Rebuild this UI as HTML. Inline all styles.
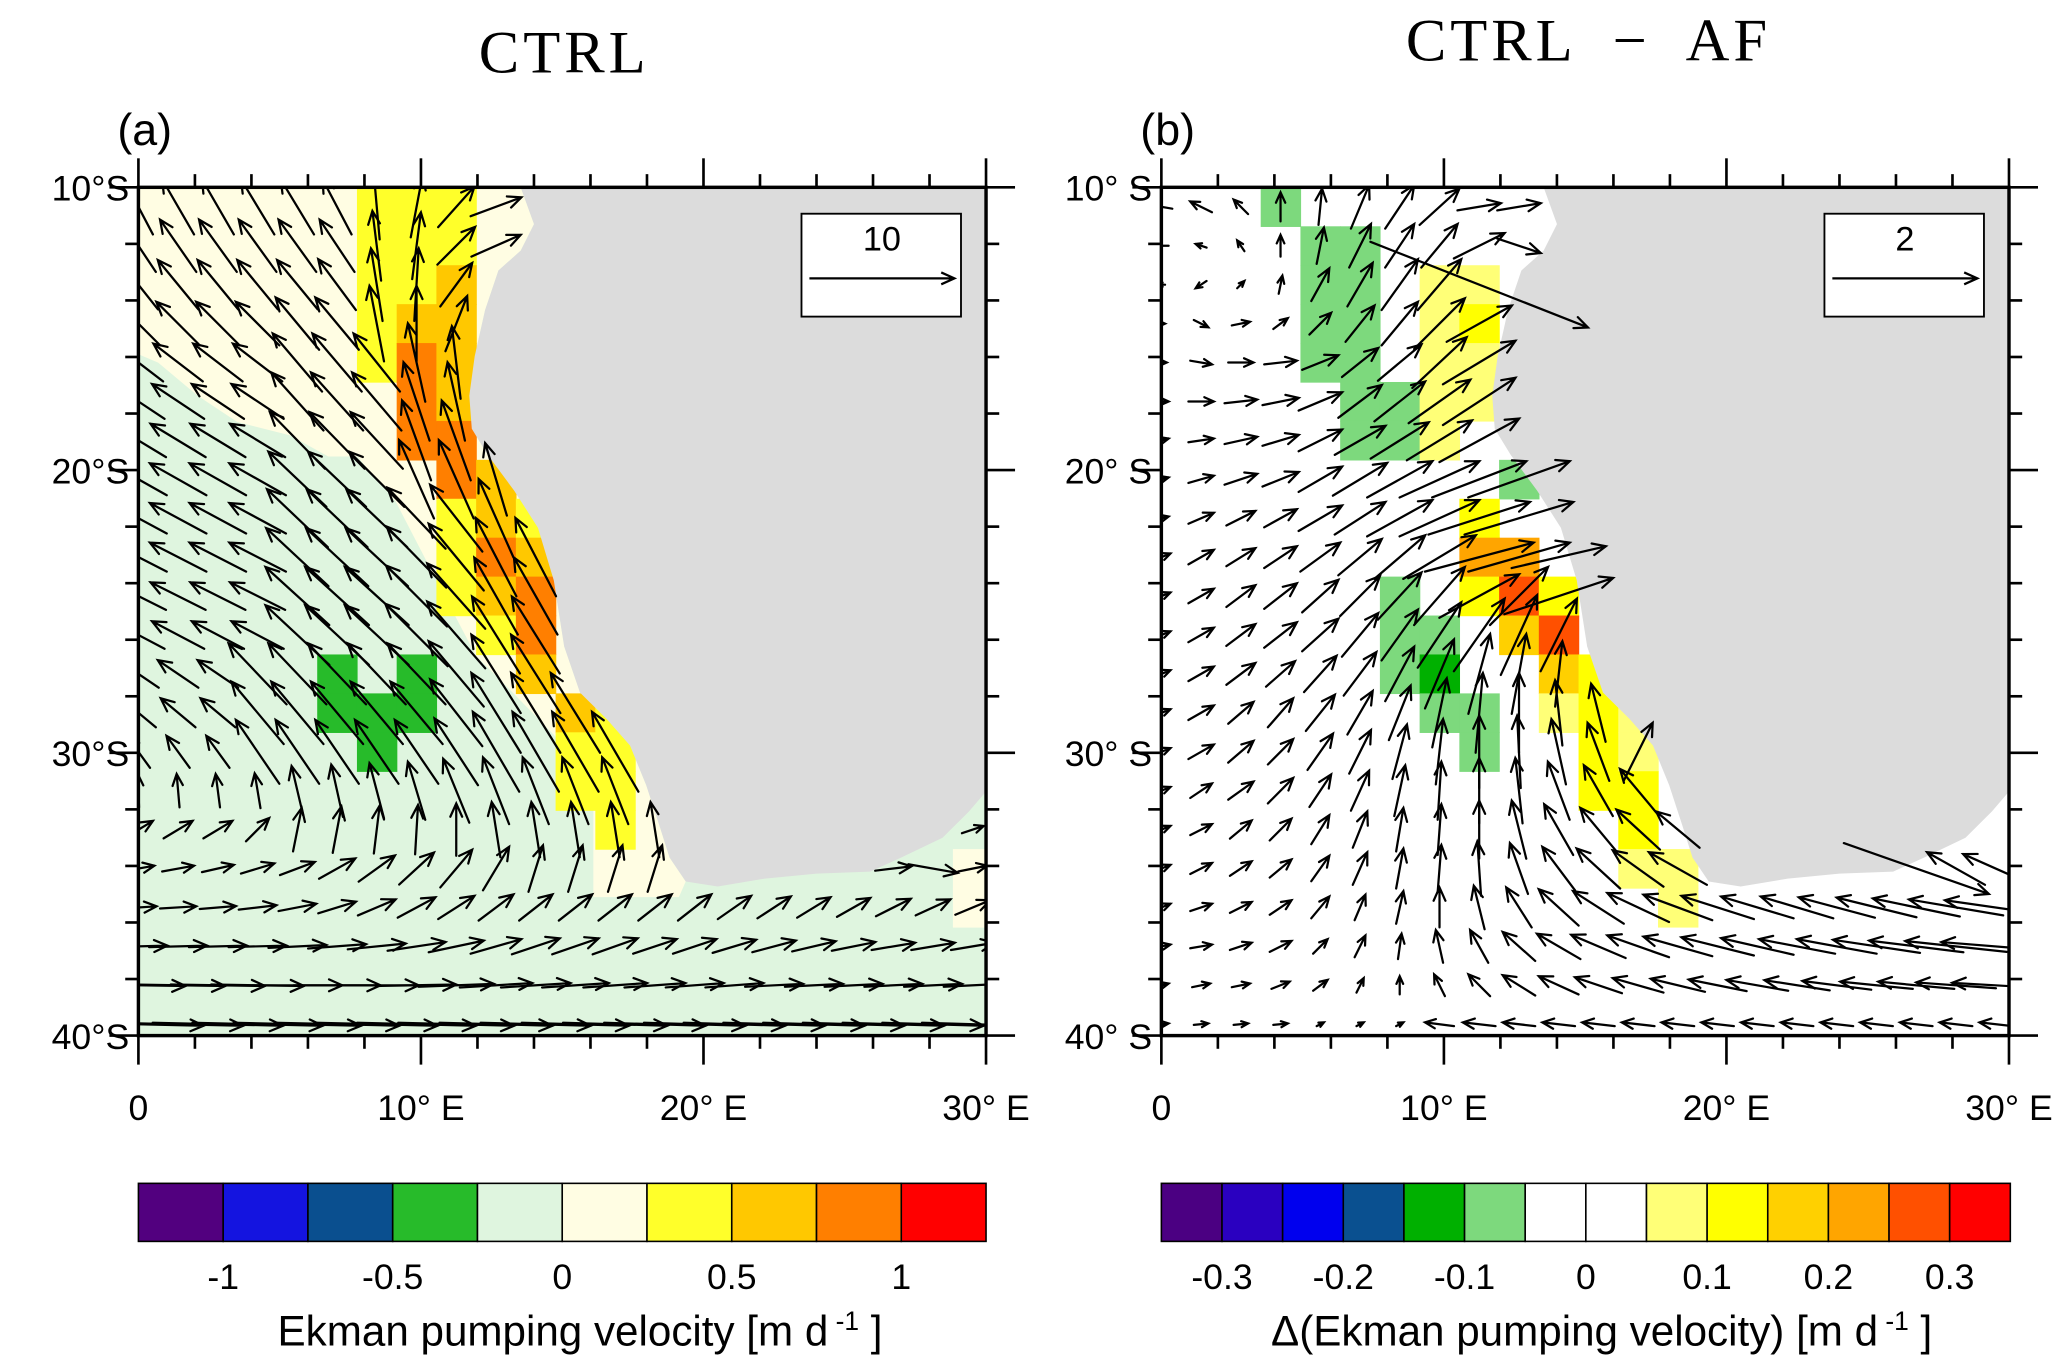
<!DOCTYPE html>
<html><head><meta charset="utf-8"><style>
html,body{margin:0;padding:0;background:#fff}
svg{display:block}
text{font-family:"Liberation Sans",sans-serif}
</style></head><body>
<svg id="fig" width="2067" height="1372" viewBox="0 0 1568 1040" preserveAspectRatio="none" xmlns="http://www.w3.org/2000/svg">
<defs>
<clipPath id="clipA"><rect x="105" y="142" width="643" height="643"/></clipPath>
<clipPath id="clipB"><rect x="881" y="142" width="644" height="643"/></clipPath>
</defs>
<text x="428" y="55" text-anchor="middle" style="font-family:'Liberation Serif',serif;font-size:46px;letter-spacing:3px">CTRL</text>
<text x="1205" y="46" text-anchor="middle" xml:space="preserve" style="font-family:'Liberation Serif',serif;font-size:46px;letter-spacing:3px;white-space:pre">CTRL  −  AF</text>
<text x="89" y="110" style="font-size:34px">(a)</text>
<text x="865" y="110" style="font-size:34px">(b)</text>
<g id="panelA"></g>
<g id="panelB"></g>
<g id="cbA"></g>
<g id="cbB"></g>
<text x="440" y="1020" text-anchor="middle" style="font-size:32px">Ekman pumping velocity [m d<tspan dy="-12" font-size="20"> -1</tspan><tspan dy="12"> ]</tspan></text>
<text x="1215" y="1020" text-anchor="middle" style="font-size:32px">Δ(Ekman pumping velocity) [m d<tspan dy="-12" font-size="20"> -1</tspan><tspan dy="12"> ]</tspan></text>
</svg>
<script>
// ---------- data ----------
const lonTicks=[0,10,20,30];
const lonTickLabels=["0","10° E","20° E","30° E"];
const latTicks=[-10,-20,-30,-40];
const latTickLabelsA=["10°S","20°S","30°S","40°S"];
const latTickLabelsB=["10° S","20° S","30° S","40° S"];
const binsA=[-1.25,-1,-0.75,-0.5,-0.25,0,0.25,0.5,0.75,1,1.25];
const colorsA=["#52007f","#1414e0","#0a4f8f","#27bb2a","#dff5df","#fffde3","#ffff2a","#ffc800","#ff7f00","#ff0000"];
const cbLabelsA=["-1","-0.5","0","0.5","1"];
const cbLabelValsA=[-1,-0.5,0,0.5,1];
const binsB=[-0.35,-0.3,-0.25,-0.2,-0.15,-0.1,-0.05,0,0.05,0.1,0.15,0.2,0.25,0.3,0.35];
const colorsB=["#4b0082","#2a00c0","#0000ee","#0a5090","#00b000","#7dd97d","#ffffff","#ffffff","#ffff77","#ffff00","#ffd000","#ffa500","#ff5000","#ff0000"];
const cbLabelsB=["-0.3","-0.2","-0.1","0","0.1","0.2","0.3"];
const cbLabelValsB=[-0.3,-0.2,-0.1,0,0.1,0.2,0.3];
// coastline (lon, lat)
const coastLon=[13.53,14.0,13.53,12.74,12.27,11.9,11.71,11.8,12.37,13.3,14.14,14.7,15.07,15.63,16.57,17.4,17.97,18.43,18.8,19.37,20.5,22.17,24.0,25.9,27.0,28.46,29.4,30,30];
const coastLat=[-10,-11.3,-12.24,-12.94,-14.34,-15.97,-17.37,-18.54,-19.47,-20.73,-22.04,-23.9,-26.24,-27.87,-28.8,-29.74,-31.14,-32.54,-33.7,-34.55,-34.73,-34.45,-34.27,-34.2,-33.7,-33.0,-32.07,-31.37,-10];
// positive-value (cream) zone of panel a
const creamLon=[0,13.53,14.0,13.53,12.74,12.27,11.9,11.71,11.8,12.37,13.3,14.14,14.7,15.07,15.63,16.57,17.4,17.97,18.43,18.8,19.37,19.13,16.1,16.1,14.75,13.35,11.95,10.55,9.1,7.75,6.72,5.37,3.5,2.1,0.7,0];
const creamLat=[-10,-10,-11.3,-12.24,-12.94,-14.34,-15.97,-17.37,-18.54,-19.47,-20.73,-22.04,-23.9,-26.24,-27.87,-28.8,-29.74,-31.14,-32.54,-33.7,-34.55,-35.1,-35.1,-32.03,-29.41,-27.97,-26.57,-23.9,-21.1,-19.52,-19.52,-18.77,-18.3,-17.37,-16.2,-15.9];
// grid cells [col index, row index, value]
const cellsA=[[6,0,0.4],[6,1,0.4],[6,2,0.4],[6,3,0.4],[6,4,0.4],
[7,0,0.4],[7,1,0.4],[7,2,0.4],[7,3,0.6],[7,4,0.9],[7,5,0.9],[7,6,0.9],
[8,0,0.4],[8,1,0.4],[8,2,0.6],[8,3,0.6],[8,4,0.6],[8,5,0.6],[8,6,0.9],[8,7,0.9],[8,8,0.4],[8,9,0.4],[8,10,0.4],
[9,7,0.6],[9,8,0.6],[9,9,0.9],[9,10,0.6],[9,11,0.4],
[10,8,0.4],[10,9,0.6],[10,10,0.9],[10,11,0.9],[10,12,0.6],
[11,13,0.6],[11,14,0.4],[11,15,0.4],
[12,13,0.4],[12,14,0.4],[12,15,0.4],[12,16,0.4],
[5,12,-0.4],[5,13,-0.4],[6,13,-0.4],[6,14,-0.4],[7,12,-0.4],[7,13,-0.4],
[21,17,0.1],[21,18,0.1]];
const cellsB=[[3,0,-0.08],[4,1,-0.08],[4,2,-0.08],[4,3,-0.08],[4,4,-0.08],[5,1,-0.08],[5,2,-0.08],[5,3,-0.08],[5,4,-0.08],
[5,5,-0.08],[5,6,-0.08],[6,5,-0.08],[6,6,-0.08],[9,7,-0.08],
[6,10,-0.08],[6,11,-0.08],[6,12,-0.08],[7,11,-0.08],[7,12,-0.12],[7,13,-0.08],[8,13,-0.08],[8,14,-0.08],
[7,2,0.08],[7,3,0.08],[7,4,0.08],[7,5,0.08],[7,6,0.08],
[8,2,0.08],[8,3,0.12],[8,4,0.08],[8,5,0.08],
[8,8,0.12],[8,9,0.22],[8,10,0.12],
[9,9,0.22],[9,10,0.27],[9,11,0.18],
[10,10,0.12],[10,11,0.27],[10,12,0.18],[10,13,0.08],
[11,12,0.12],[11,13,0.12],[11,14,0.12],[11,15,0.12],
[12,13,0.08],[12,14,0.08],[12,15,0.12],[12,16,0.12],[12,17,0.08],
[13,17,0.08],[13,18,0.08]];
// vectors panel a (u east, v north; reference 10)
const UA=[
[-2.0,-2.2,-2.2,-2.3,-2.3,-2.0,-0.4,0.8,2.5,3.5,0,0,0,0,0,0,0,0,0,0,0,0],
[-2.4,-2.5,-2.6,-2.6,-2.6,-2.4,-0.6,0.6,2.6,3.4,0,0,0,0,0,0,0,0,0,0,0,0],
[-2.7,-2.8,-2.8,-2.8,-2.8,-2.6,-0.8,0.3,2.2,3.2,0,0,0,0,0,0,0,0,0,0,0,0],
[-3.0,-3.0,-3.0,-3.0,-3.0,-3.0,-1.0,0,1.5,0,0,0,0,0,0,0,0,0,0,0,0,0],
[-3.4,-3.4,-3.4,-3.4,-3.4,-3.4,-3.2,-1.2,-0.6,0,0,0,0,0,0,0,0,0,0,0,0,0],
[-3.6,-3.6,-3.6,-3.6,-3.6,-3.6,-3.4,-1.8,-1.2,0,0,0,0,0,0,0,0,0,0,0,0,0],
[-3.8,-3.8,-3.8,-3.8,-3.8,-3.8,-3.6,-2.0,-2.0,0,0,0,0,0,0,0,0,0,0,0,0,0],
[-3.9,-3.9,-3.9,-3.9,-4.0,-4.0,-3.8,-2.4,-2.4,-1.5,0,0,0,0,0,0,0,0,0,0,0,0],
[-3.9,-3.9,-3.9,-3.9,-4.2,-4.2,-4.2,-4.0,-3.6,-2.4,-2.4,0,0,0,0,0,0,0,0,0,0,0],
[-3.9,-3.9,-3.9,-3.9,-4.3,-4.3,-4.3,-4.1,-3.8,-2.8,-2.8,0,0,0,0,0,0,0,0,0,0,0],
[-3.8,-3.8,-3.8,-3.8,-4.4,-4.4,-4.4,-4.2,-4.0,-3.0,-3.0,-2.2,0,0,0,0,0,0,0,0,0,0],
[-3.6,-3.6,-3.6,-3.6,-4.4,-4.4,-4.4,-4.3,-4.0,-3.3,-3.3,-3.3,0,0,0,0,0,0,0,0,0,0],
[-2.8,-2.8,-2.8,-4.0,-4.0,-4.0,-4.0,-4.0,-3.8,-3.4,-3.4,-3.4,-3.4,0,0,0,0,0,0,0,0,0],
[-2.4,-2.4,-2.4,-3.6,-3.6,-3.6,-3.6,-3.6,-3.6,-3.4,-3.4,-3.4,-3.4,0,0,0,0,0,0,0,0,0],
[-1.6,-1.6,-1.6,-3.0,-3.0,-3.0,-3.0,-3.0,-3.0,-3.2,-3.2,-3.2,-3.2,-2.6,0,0,0,0,0,0,0,0],
[-0.1,-0.2,-0.3,-0.4,-0.8,-0.8,-1.0,-1.2,-1.8,-1.8,-1.8,-1.8,-1.8,-1.6,0,0,0,0,0,0,0,0],
[2.0,2.0,2.0,1.6,0.6,0.6,0.4,0.2,0,-0.6,-0.6,-0.6,-0.6,-0.6,0,0,0,0,0,0,1.5,1.5],
[2.2,2.2,2.2,2.3,2.4,2.5,2.5,2.4,2.2,1.8,1.0,1.0,1.0,1.0,0,0,0,0,0,2.5,3.4,2.0],
[2.5,2.5,2.5,2.6,2.6,2.6,2.6,2.6,2.5,2.4,2.3,2.3,2.3,2.3,2.3,2.3,2.3,2.3,2.3,2.4,2.4,2.4],
[4,4,4,4,4,4,4,4,3.8,3.5,3.3,3.2,3.1,3,3,3,3,3,3,3,3,3],
[6.5,6.5,6.5,6.4,6.2,6,5.8,5.5,5.2,5,4.8,4.6,4.4,4.2,4,4,4,4,4,4,4,4],
[9,9,9,9,8.8,8.6,8.4,8.2,8,7.8,7.6,7.4,7.2,7,7,7,7,7,7,7,7,7]];
const VA=[
[3.8,3.8,3.8,3.8,3.8,3.8,4.5,4.2,2.8,1.3,0,0,0,0,0,0,0,0,0,0,0,0],
[3.6,3.6,3.6,3.6,3.6,3.6,4.8,4.6,2.6,1.5,0,0,0,0,0,0,0,0,0,0,0,0],
[3.4,3.4,3.4,3.4,3.4,3.5,5,5,3,2,0,0,0,0,0,0,0,0,0,0,0,0],
[3,3,3,3,3.6,3.6,5.2,5.2,3.8,0,0,0,0,0,0,0,0,0,0,0,0,0],
[2.6,2.6,2.6,2.6,4,4,4,5.4,5,0,0,0,0,0,0,0,0,0,0,0,0,0],
[2.4,2.4,2.4,2.4,4,4,4,5.4,5.4,0,0,0,0,0,0,0,0,0,0,0,0,0],
[2.3,2.3,2.3,2.3,3.9,3.9,3.9,5.5,5.5,0,0,0,0,0,0,0,0,0,0,0,0,0],
[2.2,2.2,2.2,2.2,3.8,3.8,3.8,5.4,5.4,5,0,0,0,0,0,0,0,0,0,0,0,0],
[2.1,2.1,2.1,2.1,4,4,4,4.2,4.6,5.4,5.4,0,0,0,0,0,0,0,0,0,0,0],
[2,2,2,2,4,4,4,4.2,4.6,5.4,5.4,0,0,0,0,0,0,0,0,0,0,0],
[1.9,1.9,1.9,1.9,4,4,4,4.2,4.5,5.3,5.3,5.2,0,0,0,0,0,0,0,0,0,0],
[1.9,1.9,1.9,1.9,4.1,4.1,4.1,4.3,4.6,5.3,5.3,5.3,0,0,0,0,0,0,0,0,0,0],
[1.9,1.9,1.9,4.2,4.2,4.2,4.2,4.2,4.5,5.4,5.4,5.4,5.4,0,0,0,0,0,0,0,0,0],
[2,2,2,4.3,4.3,4.3,4.3,4.3,4.6,5.5,5.5,5.5,5.5,0,0,0,0,0,0,0,0,0],
[2.2,2.2,2.2,4.4,4.4,4.4,4.4,4.4,4.6,5.5,5.5,5.5,5.5,5.2,0,0,0,0,0,0,0,0],
[2.3,2.3,2.3,2.4,3.4,3.6,3.8,4,4.4,4.6,4.6,4.6,4.6,4.4,0,0,0,0,0,0,0,0],
[1.2,1.2,1.2,1.6,3,3.2,3.3,3.4,3.6,3.8,3.8,3.8,3.8,3.8,0,0,0,0,0,0,0.5,0.5],
[0.4,0.4,0.5,0.7,0.9,1.4,1.8,2.2,2.6,3,3.2,3.2,3.2,3.2,0,0,0,0,0,0.3,-0.6,0.4],
[0.15,0.15,0.2,0.3,0.5,0.8,1.1,1.4,1.6,1.8,1.8,1.8,1.8,1.8,1.8,1.6,1.5,1.4,1.3,1.2,1.1,1],
[0.1,0.1,0.1,0.1,0.2,0.3,0.4,0.6,0.8,1,1.1,1.1,1.1,1,1,0.9,0.8,0.7,0.6,0.5,0.5,0.5],
[-0.1,-0.1,-0.1,-0.1,0,0,0,0.1,0.2,0.3,0.3,0.3,0.3,0.3,0.3,0.3,0.2,0.2,0.2,0.2,0.2,0.2],
[-0.2,-0.2,-0.2,-0.2,-0.2,-0.2,-0.2,-0.2,-0.2,-0.2,-0.2,-0.2,-0.2,-0.2,-0.2,-0.2,-0.2,-0.2,-0.2,-0.2,-0.2,-0.2]];
// vectors panel b (reference 2)
const UB=[
[-0.3,-0.3,-0.2,0,0.05,0.25,0.4,0.55,0.6,0.6,0,0,0,0,0,0,0,0,0,0,0,0],
[-0.2,-0.15,-0.1,0,0.1,0.3,0.4,0.5,0.7,0.6,0,0,0,0,0,0,0,0,0,0,0,0],
[-0.1,-0.15,0.1,0.05,0.25,0.35,0.5,0.6,3,0.8,0,0,0,0,0,0,0,0,0,0,0,0],
[0.1,0.2,0.25,0.2,0.3,0.4,0.5,0.7,0.9,0.8,0,0,0,0,0,0,0,0,0,0,0,0],
[0.15,0.3,0.35,0.45,0.5,0.5,0.6,0.75,1,1,0,0,0,0,0,0,0,0,0,0,0,0],
[0.2,0.35,0.45,0.5,0.6,0.6,0.7,0.85,1,1.1,0,0,0,0,0,0,0,0,0,0,0,0],
[0.2,0.35,0.45,0.5,0.6,0.7,0.8,0.9,1.1,1.1,0,0,0,0,0,0,0,0,0,0,0,0],
[0.2,0.35,0.45,0.5,0.6,0.75,0.9,1.1,1.3,1.4,1.3,0,0,0,0,0,0,0,0,0,0,0],
[0.2,0.35,0.4,0.45,0.6,0.7,0.9,1.1,1.4,1.5,1.3,0,0,0,0,0,0,0,0,0,0,0],
[0.25,0.35,0.4,0.45,0.55,0.6,0.7,1,1.5,1.4,1.3,0.8,0,0,0,0,0,0,0,0,0,0],
[0.25,0.35,0.4,0.45,0.5,0.55,0.6,0.7,1.1,0.8,1.5,0.6,0,0,0,0,0,0,0,0,0,0],
[0.25,0.35,0.4,0.45,0.5,0.5,0.5,0.6,0.7,0.5,0.5,0.3,0,0,0,0,0,0,0,0,0,0],
[0.25,0.35,0.4,0.4,0.45,0.45,0.4,0.4,0.3,0.2,0.1,0.2,0,0,0,0,0,0,0,0,0,0],
[0.25,0.35,0.35,0.35,0.4,0.35,0.3,0.2,0.1,0,-0.1,-0.2,-0.3,0,0,0,0,0,0,0,0,0],
[0.25,0.35,0.35,0.35,0.35,0.3,0.2,0.1,0,-0.05,-0.2,-0.3,0.4,-0.4,0,0,0,0,0,0,0,0],
[0.25,0.3,0.35,0.35,0.3,0.25,0.15,0.05,0,-0.1,-0.3,-0.4,-0.5,0.8,0,0,0,0,0,0,0,0],
[0.25,0.3,0.3,0.3,0.25,0.2,0.1,0.05,0,-0.2,-0.4,-0.5,-0.6,-0.6,-0.7,0,0,0,0,0,0,0],
[0.25,0.3,0.3,0.3,0.25,0.2,0.1,0.05,-0.05,-0.25,-0.45,-0.6,-0.7,-0.8,-0.9,-0.9,0,0,0,2,-0.8,-0.9],
[0.25,0.3,0.3,0.3,0.25,0.15,0.1,0,-0.15,-0.35,-0.55,-0.7,-0.85,-0.95,-1,-1,-1,-1.05,-1.1,-1.2,-1.3,-1.4],
[0.25,0.3,0.3,0.3,0.2,0.15,0.05,-0.1,-0.25,-0.45,-0.6,-0.75,-0.85,-0.95,-1,-1,-1.05,-1.1,-1.2,-1.3,-1.4,-1.5],
[0.2,0.25,0.25,0.25,0.2,0.1,0,-0.15,-0.3,-0.45,-0.55,-0.65,-0.7,-0.75,-0.8,-0.85,-0.9,-0.95,-1,-1.05,-1.1,-1.2],
[0.2,0.2,0.2,0.2,0.1,0.1,0.1,-0.4,-0.45,-0.45,-0.45,-0.45,-0.45,-0.45,-0.45,-0.45,-0.45,-0.45,-0.45,-0.45,-0.45,-0.45]];
const VB=[
[0.05,0.15,0.2,0.4,0.5,0.6,0.6,0.5,0.1,0.1,0,0,0,0,0,0,0,0,0,0,0,0],
[0,0.05,0.15,0.3,0.5,0.6,0.6,0.6,0.35,-0.2,0,0,0,0,0,0,0,0,0,0,0,0],
[0,-0.1,0.1,0.25,0.45,0.6,0.7,0.7,-1.18,0.35,0,0,0,0,0,0,0,0,0,0,0,0],
[0,-0.1,0.05,0.15,0.3,0.5,0.6,0.7,0.5,0.5,0,0,0,0,0,0,0,0,0,0,0,0],
[0,-0.05,0,0.05,0.2,0.4,0.5,0.7,0.6,0.55,0,0,0,0,0,0,0,0,0,0,0,0],
[0,0,0.05,0.1,0.25,0.45,0.55,0.6,0.65,0.6,0,0,0,0,0,0,0,0,0,0,0,0],
[0.05,0.05,0.1,0.15,0.3,0.4,0.5,0.55,0.6,0.5,0,0,0,0,0,0,0,0,0,0,0,0],
[0.05,0.1,0.15,0.2,0.35,0.45,0.5,0.5,0.5,0.5,0.4,0,0,0,0,0,0,0,0,0,0,0],
[0.05,0.15,0.2,0.25,0.35,0.45,0.5,0.5,0.45,0.45,0.4,0,0,0,0,0,0,0,0,0,0,0],
[0.1,0.2,0.25,0.3,0.4,0.5,0.6,0.6,0.4,0.4,0.3,0.2,0,0,0,0,0,0,0,0,0,0],
[0.1,0.2,0.3,0.35,0.45,0.55,0.65,0.8,0.6,0.8,0.5,0.3,0,0,0,0,0,0,0,0,0,0],
[0.1,0.2,0.3,0.35,0.45,0.6,0.7,0.9,1,1.1,1,0.6,0,0,0,0,0,0,0,0,0,0],
[0.1,0.2,0.3,0.35,0.5,0.6,0.75,0.95,1.1,1.1,0.9,0.8,0,0,0,0,0,0,0,0,0,0],
[0.1,0.2,0.3,0.4,0.5,0.6,0.75,0.95,1.1,1.1,0.9,0.8,0.6,0,0,0,0,0,0,0,0,0],
[0.1,0.2,0.3,0.35,0.5,0.6,0.75,0.9,1,1,0.9,0.8,0.8,0.6,0,0,0,0,0,0,0,0],
[0.1,0.2,0.25,0.35,0.45,0.55,0.7,0.8,0.9,0.9,0.8,0.7,0.6,-0.5,0,0,0,0,0,0,0,0],
[0.1,0.15,0.25,0.3,0.4,0.5,0.6,0.7,0.8,0.8,0.7,0.6,0.55,0.5,0.45,0,0,0,0,0,0,0],
[0.1,0.15,0.2,0.25,0.35,0.45,0.55,0.65,0.75,0.7,0.6,0.55,0.5,0.45,0.4,0.35,0,0,0,-0.7,0.45,0.4],
[0.1,0.1,0.15,0.2,0.3,0.35,0.45,0.55,0.6,0.55,0.5,0.45,0.4,0.35,0.32,0.3,0.3,0.28,0.27,0.25,0.22,0.2],
[0.05,0.05,0.1,0.15,0.2,0.3,0.35,0.45,0.45,0.4,0.35,0.32,0.3,0.27,0.25,0.23,0.2,0.2,0.18,0.16,0.15,0.12],
[0.05,0.05,0.05,0.1,0.15,0.2,0.25,0.3,0.3,0.28,0.25,0.22,0.2,0.18,0.16,0.15,0.14,0.12,0.1,0.1,0.08,0.07],
[0.02,0.02,0.02,0.02,0.05,0.05,0.05,0.05,0.05,0.05,0.05,0.05,0.05,0.05,0.05,0.05,0.05,0.05,0.05,0.05,0.05,0.05]];

// ---------- rendering ----------
const NS="http://www.w3.org/2000/svg";
const PPD=21.433, TOP=142, DLON=1.40625, LAT0=-10.69, DLAT=1.3766;
function mk(tag,attrs,parent){const e=document.createElementNS(NS,tag);for(const k in attrs)e.setAttribute(k,attrs[k]);parent.appendChild(e);return e;}
function colorFor(v,bins,cols){for(let i=0;i<cols.length;i++){if(v>=bins[i]&&v<bins[i+1])return cols[i];}return v<bins[0]?cols[0]:cols[cols.length-1];}
function inLand(lon,lat){let c=false;const n=coastLon.length;for(let i=0,j=n-1;i<n;j=i++){const xi=coastLon[i],yi=coastLat[i],xj=coastLon[j],yj=coastLat[j];if(((yi>lat)!=(yj>lat))&&(lon<(xj-xi)*(lat-yi)/(yj-yi)+xi))c=!c;}return c;}

function drawPanel(g,x0,cells,bins,cols,U,V,pxPerUnit,refVal,bg,useCream,refLabel){
  const X=lon=>x0+lon*PPD, Y=lat=>TOP+(-10-lat)*PPD;
  const clip=g.id==="panelA"?"url(#clipA)":"url(#clipB)";
  const inner=mk("g",{"clip-path":clip},g);
  const bgr=mk("rect",{x:x0,y:TOP,width:643,height:643,fill:bg},inner);
  
  
  if(useCream){
    let d=creamLon.map((lo,i)=>(i?"L":"M")+X(lo).toFixed(1)+","+Y(creamLat[i]).toFixed(1)).join("")+"Z";
    const cp=mk("path",{d:d,fill:colorFor(0.1,bins,cols)},inner);
    
    
  }
  cells.forEach(c=>{
    const lon=c[0]*DLON, lat=LAT0-c[1]*DLAT;
    const r=mk("rect",{x:X(lon-DLON/2),y:Y(lat+DLAT/2),width:DLON*PPD+0.5,height:DLAT*PPD+0.5,fill:colorFor(c[2],bins,cols)},inner);
    
    
  });
  let d=coastLon.map((lo,i)=>(i?"L":"M")+X(lo).toFixed(1)+","+Y(coastLat[i]).toFixed(1)).join("")+"Z";
  const land=mk("path",{d:d,fill:"#dcdcdc"},inner);
  
  
  const vg=mk("g",{stroke:"#000","stroke-width":"1.7",fill:"none","stroke-linecap":"round"},inner);
  
  
  for(let r=0;r<U.length;r++)for(let k=0;k<U[r].length;k++){
    const lon=k*DLON, lat=LAT0-r*DLAT;
    if(inLand(lon,lat))continue;
    const dx=U[r][k]*pxPerUnit, dy=-V[r][k]*pxPerUnit;
    const L=Math.hypot(dx,dy); if(L<2)continue;
    const cx=X(lon), cy=Y(lat);
    const a=mkArrow(vg,cx-dx/2,cy-dy/2,cx+dx/2,cy+dy/2);
    
    
  }
  const bx=x0+503, by=162;
  const rb=mk("rect",{x:bx,y:by,width:121,height:78,fill:"#fff",stroke:"#000","stroke-width":"1.4"},g);
  
  
  const rt=mk("text",{x:bx+61,y:by+28,"text-anchor":"middle","font-size":"26"},g); rt.textContent=refLabel;
  
  
  const rg=mk("g",{stroke:"#000","stroke-width":"1.7",fill:"none"},g);
  const ra=mkArrow(rg,bx+6,by+49,bx+6+refVal*pxPerUnit,by+49);
  
  
  const fr=mk("rect",{x:x0,y:TOP,width:643,height:643,fill:"none",stroke:"#000","stroke-width":"2.6"},g);
  
  
  const tg=mk("g",{stroke:"#000","stroke-width":"2"},g);
  
  
  for(let lo=0;lo<=30;lo+=2){const maj=lo%10===0, L=maj?22:10, x=X(lo);
    mk("line",{x1:x,y1:TOP,x2:x,y2:TOP-L},tg); mk("line",{x1:x,y1:TOP+643,x2:x,y2:TOP+643+L},tg);}
  for(let la=-10;la>=-40;la-=2){const maj=la%10===0, L=maj?22:10, y=Y(la);
    mk("line",{x1:x0,y1:y,x2:x0-L,y2:y},tg); mk("line",{x1:x0+643,y1:y,x2:x0+643+L,y2:y},tg);}
  lonTicks.forEach((lo,i)=>{const t=mk("text",{x:X(lo),y:849,"text-anchor":"middle","font-size":"27"},g);t.textContent=lonTickLabels[i];
    
    });
  const latLabels=g.id==="panelA"?latTickLabelsA:latTickLabelsB;
  latTicks.forEach((la,i)=>{const t=mk("text",{x:x0-7,y:Y(la)+10,"text-anchor":"end","font-size":"27"},g);t.textContent=latLabels[i];
    
    });
}
function mkArrow(parent,x1,y1,x2,y2){
  const L=Math.hypot(x2-x1,y2-y1), h=Math.min(11,0.28*L+2.5), ang=Math.atan2(y2-y1,x2-x1), s=0.42;
  const hx1=x2-h*Math.cos(ang-s), hy1=y2-h*Math.sin(ang-s), hx2=x2-h*Math.cos(ang+s), hy2=y2-h*Math.sin(ang+s);
  return mk("path",{d:`M${x1.toFixed(1)},${y1.toFixed(1)}L${x2.toFixed(1)},${y2.toFixed(1)}M${hx1.toFixed(1)},${hy1.toFixed(1)}L${x2.toFixed(1)},${y2.toFixed(1)}L${hx2.toFixed(1)},${hy2.toFixed(1)}`},parent);
}
function drawColorbar(g,x0,w,bins,cols,labels,labelVals){
  const n=cols.length, bw=w/n, y=897, h=44;
  cols.forEach((c,i)=>{const r=mk("rect",{x:x0+i*bw,y:y,width:bw,height:h,fill:c,stroke:"#000","stroke-width":"1.2"},g);
    
    });
  const bmin=bins[0], bmax=bins[bins.length-1];
  labels.forEach((l,i)=>{const x=x0+(labelVals[i]-bmin)/(bmax-bmin)*w;
    const t=mk("text",{x:x,y:977,"text-anchor":"middle","font-size":"27"},g);t.textContent=l;
    
    });
}
drawPanel(document.getElementById("panelA"),105,cellsA,binsA,colorsA,UA,VA,11,10,"#dff5df",true,"10");
drawPanel(document.getElementById("panelB"),881,cellsB,binsB,colorsB,UB,VB,55,2,"#ffffff",false,"2");
drawColorbar(document.getElementById("cbA"),105,643,binsA,colorsA,cbLabelsA,cbLabelValsA);
drawColorbar(document.getElementById("cbB"),881,644,binsB,colorsB,cbLabelsB,cbLabelValsB);
</script>
</body></html>
